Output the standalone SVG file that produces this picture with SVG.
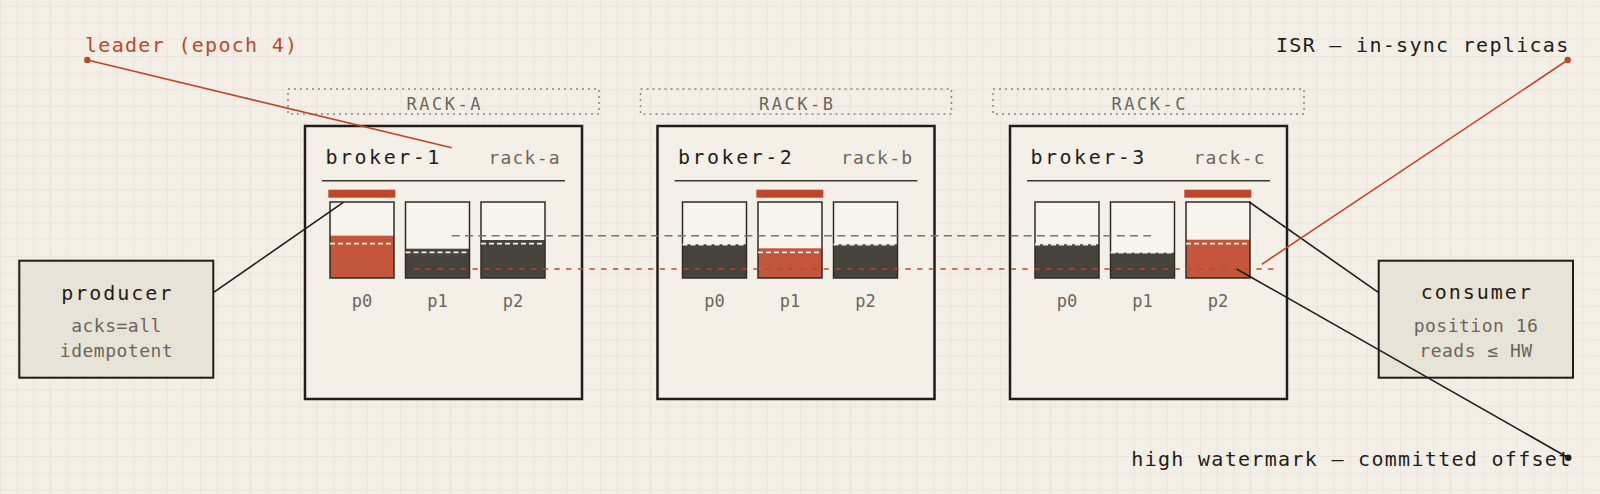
<svg xmlns="http://www.w3.org/2000/svg" width="1600" height="494" viewBox="0 0 1600 494">
<defs>
<pattern id="grid" patternUnits="userSpaceOnUse" x="0" y="6" width="16.667" height="16.667">
<path d="M0 0.5H16.667M0.5 0V16.667" fill="none" stroke="#ebe6da" stroke-width="1"/>
</pattern>
<style>
text{font-family:"DejaVu Sans Mono","Liberation Mono",monospace}
.broker{fill:#f4f0e8;stroke:#1f1d1a;stroke-width:2.5}
.rackbox{fill:none;stroke:#8a857b;stroke-width:1.5;stroke-dasharray:2 4}
.ttl{font-size:20px;letter-spacing:2.5px;fill:#1f1d1a}
.ttl2{font-size:20px;letter-spacing:2px;fill:#1f1d1a;text-anchor:middle}
.rk{font-size:18px;letter-spacing:1.2px;fill:#6b665c}
.rklbl{font-size:17px;letter-spacing:2.5px;fill:#6b665c;text-anchor:middle}
.sep{stroke:#3a3833;stroke-width:1.5}
.pbox{fill:#f7f4ee}
.pframe{fill:none;stroke:#2d2b27;stroke-width:1.5}
.fd{fill:#46433d}
.fr{fill:#c4573b}
.bar{fill:#c0452a}
.hw{stroke:#f4f1ea;stroke-width:1.8;stroke-dasharray:5 3}
.plab{font-size:17px;fill:#6b665c;text-anchor:middle}
.client{fill:#e8e3d7;stroke:#1f1d1a;stroke-width:2}
.sub{font-size:18px;letter-spacing:0.5px;fill:#6b665c;text-anchor:middle}
.note{font-size:20px;letter-spacing:1.3px}
.blk{stroke:#1f1d1a;stroke-width:1.6;fill:none}
.red{stroke:#c0452a;stroke-width:1.6;fill:none}
</style>
</defs>
<rect width="1600" height="494" fill="#f3efe7"/>
<rect width="1600" height="494" fill="url(#grid)"/>

<g id="racks">
<g id="rack-a"><rect class="rackbox" x="288" y="89" width="311" height="25"/><text class="rklbl" x="444.8" y="110">RACK-A</text></g>
<g id="rack-b"><rect class="rackbox" x="640.5" y="89" width="311" height="25"/><text class="rklbl" x="797.3" y="110">RACK-B</text></g>
<g id="rack-c"><rect class="rackbox" x="993" y="89" width="311" height="25"/><text class="rklbl" x="1149.8" y="110">RACK-C</text></g>
</g>

<g id="broker-1" transform="translate(305,126)">
<rect class="broker" x="0" y="0" width="277" height="273"/>
<text class="ttl" x="20.5" y="38.3">broker-1</text>
<text class="rk" x="183.5" y="38.3">rack-a</text>
<line class="sep" x1="17" y1="54.7" x2="260" y2="54.7"/>
<rect class="bar" x="23.3" y="63.7" width="67" height="8"/>
<rect class="pbox" x="25" y="76" width="64" height="76"/>
<rect class="fr" x="25" y="109.7" width="64" height="42.3"/>
<rect class="pframe" x="25" y="76" width="64" height="76"/>
<line class="hw" x1="25" y1="117.7" x2="89" y2="117.7"/>
<rect class="pbox" x="100.5" y="76" width="64" height="76"/>
<rect class="fd" x="100.5" y="122.7" width="64" height="29.3"/>
<rect class="pframe" x="100.5" y="76" width="64" height="76"/>
<line class="hw" x1="100.5" y1="126.3" x2="164.5" y2="126.3"/>
<rect class="pbox" x="176" y="76" width="64" height="76"/>
<rect class="fd" x="176" y="114" width="64" height="38"/>
<rect class="pframe" x="176" y="76" width="64" height="76"/>
<line class="hw" x1="176" y1="117.7" x2="240" y2="117.7"/>
<text class="plab" x="57" y="180.7">p0</text>
<text class="plab" x="132.5" y="180.7">p1</text>
<text class="plab" x="208" y="180.7">p2</text>
</g>

<g id="broker-2" transform="translate(657.5,126)">
<rect class="broker" x="0" y="0" width="277" height="273"/>
<text class="ttl" x="20.5" y="38.3">broker-2</text>
<text class="rk" x="183.5" y="38.3">rack-b</text>
<line class="sep" x1="17" y1="54.7" x2="260" y2="54.7"/>
<rect class="bar" x="98.8" y="63.7" width="67" height="8"/>
<rect class="pbox" x="25" y="76" width="64" height="76"/>
<rect class="fd" x="25" y="118.3" width="64" height="33.7"/>
<rect class="pframe" x="25" y="76" width="64" height="76"/>
<line class="hw" x1="25" y1="118.5" x2="89" y2="118.5"/>
<rect class="pbox" x="100.5" y="76" width="64" height="76"/>
<rect class="fr" x="100.5" y="122.3" width="64" height="29.7"/>
<rect class="pframe" x="100.5" y="76" width="64" height="76"/>
<line class="hw" x1="100.5" y1="126.3" x2="164.5" y2="126.3"/>
<rect class="pbox" x="176" y="76" width="64" height="76"/>
<rect class="fd" x="176" y="118.3" width="64" height="33.7"/>
<rect class="pframe" x="176" y="76" width="64" height="76"/>
<line class="hw" x1="176" y1="118.5" x2="240" y2="118.5"/>
<text class="plab" x="57" y="180.7">p0</text>
<text class="plab" x="132.5" y="180.7">p1</text>
<text class="plab" x="208" y="180.7">p2</text>
</g>

<g id="broker-3" transform="translate(1010,126)">
<rect class="broker" x="0" y="0" width="277" height="273"/>
<text class="ttl" x="20.5" y="38.3">broker-3</text>
<text class="rk" x="183.5" y="38.3">rack-c</text>
<line class="sep" x1="17" y1="54.7" x2="260" y2="54.7"/>
<rect class="bar" x="174.3" y="63.7" width="67" height="8"/>
<rect class="pbox" x="25" y="76" width="64" height="76"/>
<rect class="fd" x="25" y="118.3" width="64" height="33.7"/>
<rect class="pframe" x="25" y="76" width="64" height="76"/>
<line class="hw" x1="25" y1="118.5" x2="89" y2="118.5"/>
<rect class="pbox" x="100.5" y="76" width="64" height="76"/>
<rect class="fd" x="100.5" y="126.7" width="64" height="25.3"/>
<rect class="pframe" x="100.5" y="76" width="64" height="76"/>
<line class="hw" x1="100.5" y1="126.7" x2="164.5" y2="126.7"/>
<rect class="pbox" x="176" y="76" width="64" height="76"/>
<rect class="fr" x="176" y="113.7" width="64" height="38.3"/>
<rect class="pframe" x="176" y="76" width="64" height="76"/>
<line class="hw" x1="176" y1="117.7" x2="240" y2="117.7"/>
<text class="plab" x="57" y="180.7">p0</text>
<text class="plab" x="132.5" y="180.7">p1</text>
<text class="plab" x="208" y="180.7">p2</text>
</g>

<g id="producer">
<rect class="client" x="19.3" y="260.7" width="194" height="117"/>
<text class="ttl2" x="117.3" y="300">producer</text>
<text class="sub" x="116.5" y="331.7">acks=all</text>
<text class="sub" x="116.5" y="356.7">idempotent</text>
</g>

<g id="consumer">
<rect class="client" x="1378.7" y="260.7" width="194.3" height="117"/>
<text class="ttl2" x="1476.8" y="299.3">consumer</text>
<text class="sub" x="1476" y="331.7">position 16</text>
<text class="sub" x="1476" y="356.7">reads ≤ HW</text>
</g>

<g id="connectors">
<line x1="451.7" y1="235.7" x2="1151" y2="235.7" stroke="#77736a" stroke-width="1.5" stroke-dasharray="8 5.3"/>
<line x1="414" y1="269" x2="1279" y2="269" stroke="#c0452a" stroke-width="1.6" stroke-dasharray="5.3 6.4"/>
<line class="blk" x1="213.3" y1="292.7" x2="343.3" y2="202.3"/>
<line class="blk" x1="1249.3" y1="202" x2="1378.7" y2="292.7"/>
<line class="red" x1="87.3" y1="60" x2="451.7" y2="147.7"/>
<circle cx="87.3" cy="60" r="3.2" fill="#c0452a"/>
<line class="red" x1="1567.7" y1="60" x2="1261.7" y2="264.3"/>
<circle cx="1567.7" cy="60" r="3.2" fill="#c0452a"/>
<line class="blk" x1="1236.7" y1="269" x2="1568.3" y2="457.7"/>
<circle cx="1568.3" cy="457.7" r="3.2" fill="#1f1d1a"/>
</g>

<g id="labels">
<text class="note" x="85" y="51.7" fill="#c0452a">leader (epoch 4)</text>
<text class="note" x="1276" y="51.7" fill="#1f1d1a">ISR — in-sync replicas</text>
<text class="note" x="1131.3" y="465.7" fill="#1f1d1a">high watermark — committed offset</text>
</g>
</svg>
